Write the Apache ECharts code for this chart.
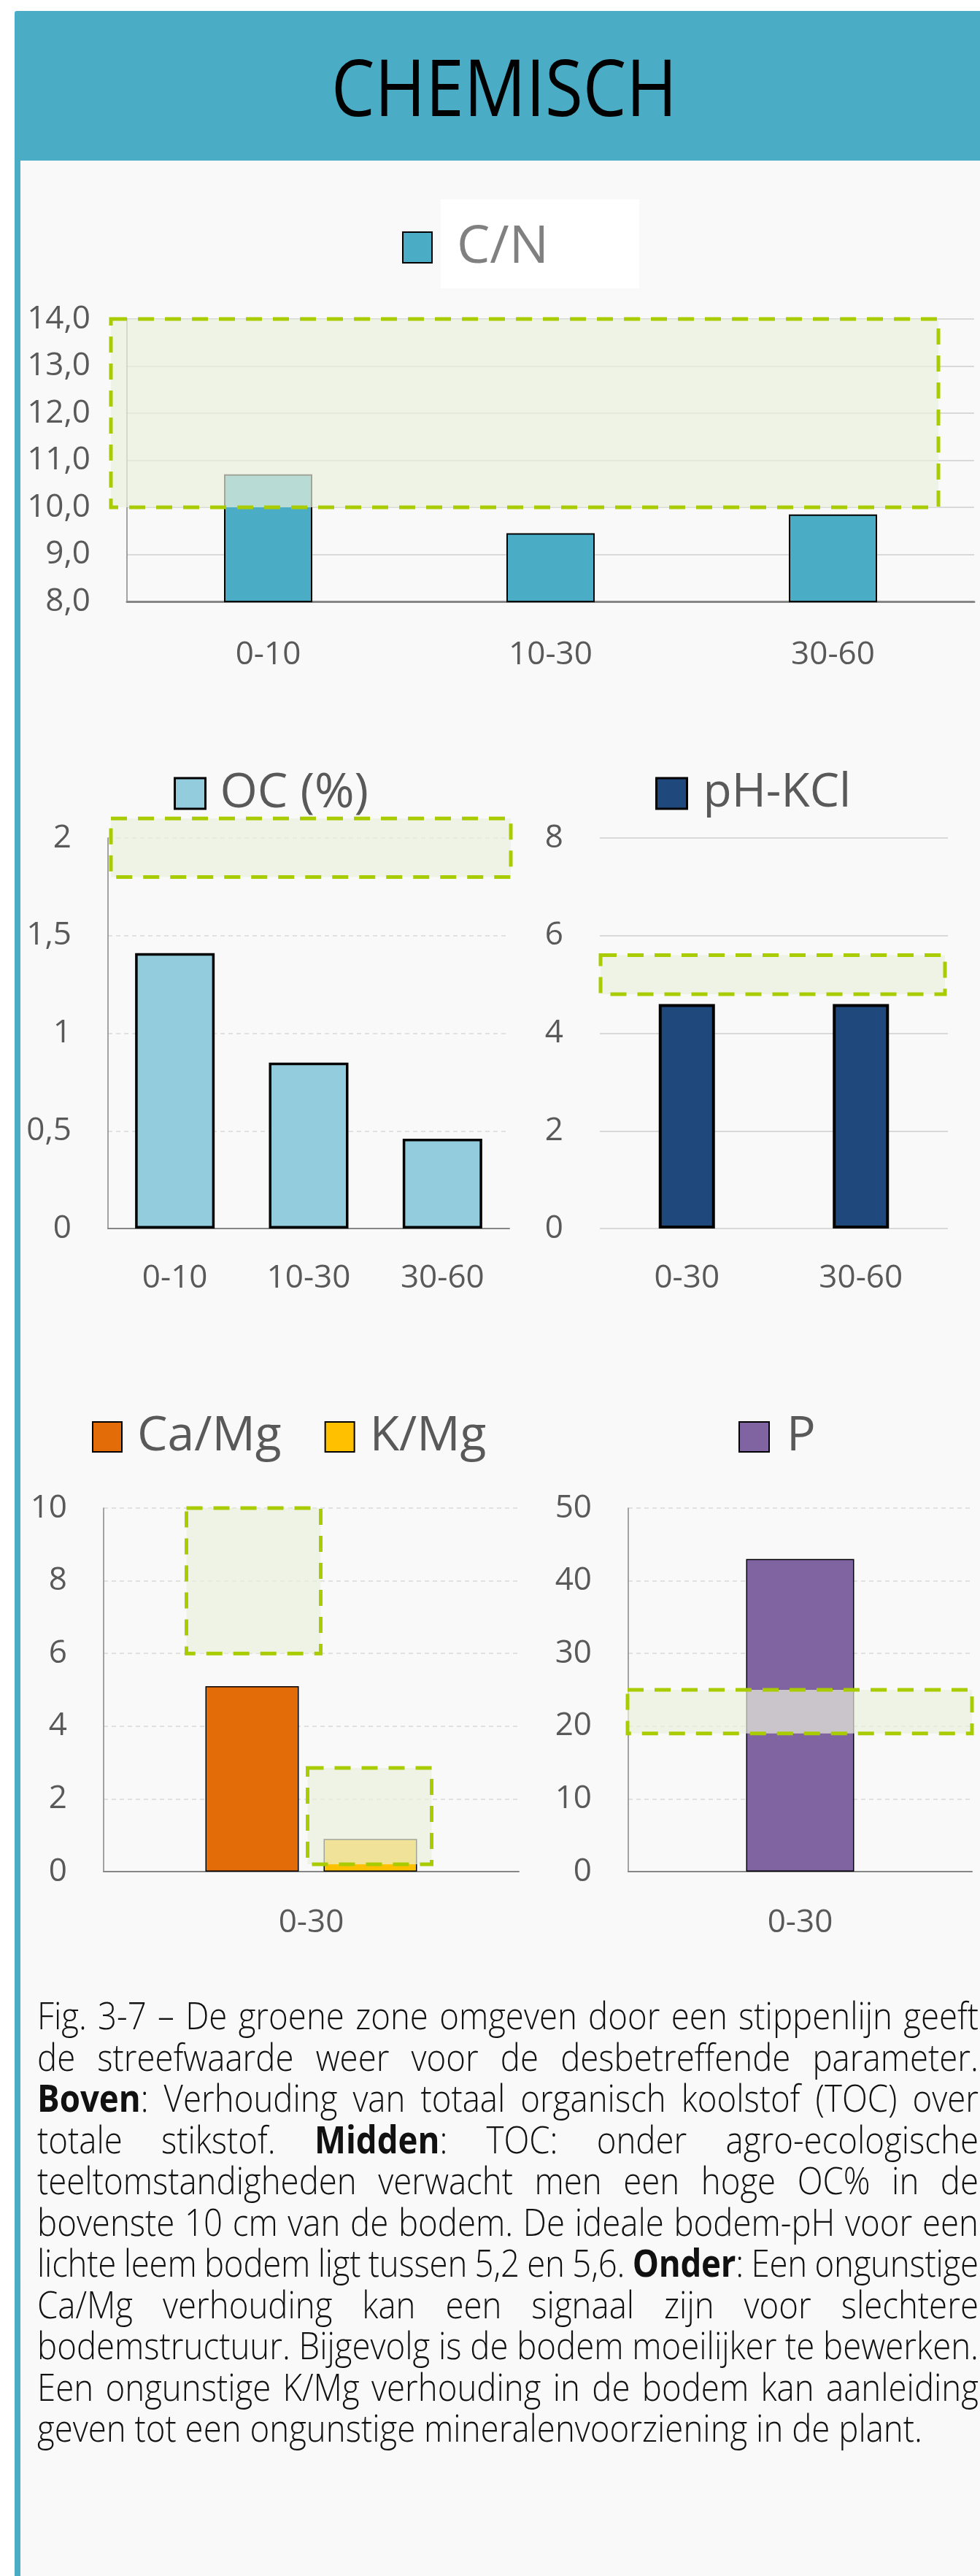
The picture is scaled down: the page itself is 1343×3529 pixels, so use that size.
<!DOCTYPE html>
<html>
<head>
<meta charset="utf-8">
<script src="https://cdn.jsdelivr.net/npm/echarts@6/dist/echarts.min.js"></script>
<style>
  html, body { margin: 0; padding: 0; background: #ffffff; }
  body { width: 1343px; height: 3529px; position: relative; overflow: hidden; font-family: 'Open Sans', sans-serif; }
  #panel { position: absolute; left: 20px; top: 220px; width: 1323px; height: 3309px; background: #f9f9f9; border-left: 8px solid #4bacc6; box-sizing: border-box; }
  #header { position: absolute; left: 20px; top: 15px; width: 1323px; height: 205px; background: #4bacc6; border-top-left-radius: 3px; }
  #title { position: absolute; left: 391px; top: 64px; width: 600px; text-align: center; font-size: 108px; line-height: 108px; color: #000; transform: scaleX(0.875); transform-origin: 50% 50%; white-space: nowrap; }
  #chart { position: absolute; left: 0; top: 0; width: 1343px; height: 2700px; z-index: 1; }
  #caption { position: absolute; left: 51px; top: 2732px; font-size: 52px; line-height: 56.5px; color: #111; font-weight: 300; transform-origin: 0 0; z-index: 2; }
  #caption .ln { display: flex; justify-content: space-between; white-space: nowrap; }
  #caption .ln span { flex: none; }
  #caption .last { white-space: pre; }
  #caption b { font-weight: 700; }
</style>
</head>
<body>
<div id="panel"></div>
<div id="header"></div>
<div id="title">CHEMISCH</div>
<div id="chart"></div>
<div id="caption"></div>
<script>
// ---------- data ----------
const cnCategories = ['0-10', '10-30', '30-60'];
const cnValues = [10.7, 9.45, 9.85];
const cnTarget = [10, 14];
const cnAxis = [8, 14, 1];

const ocCategories = ['0-10', '10-30', '30-60'];
const ocValues = [1.41, 0.85, 0.46];
const ocTarget = [1.8, 2.1];
const ocAxis = [0, 2, 0.5];

const phCategories = ['0-30', '30-60'];
const phValues = [4.6, 4.6];
const phTarget = [4.8, 5.6];
const phAxis = [0, 8, 2];

const ratioCategories = ['0-30'];
const caMgValues = [5.1];
const kMgValues = [0.9];
const caMgTarget = [6, 10];
const kMgTarget = [0.2, 2.85];
const ratioAxis = [0, 10, 2];

const pCategories = ['0-30'];
const pValues = [43];
const pTarget = [19, 25];
const pAxis = [0, 50, 10];

const captionLines = [
  'Fig. 3-7 – De groene zone omgeven door een stippenlijn geeft',
  'de streefwaarde weer voor de desbetreffende parameter.',
  '**Boven**: Verhouding van totaal organisch koolstof (TOC) over',
  'totale stikstof. **Midden**: TOC: onder agro-ecologische',
  'teeltomstandigheden verwacht men een hoge OC% in de',
  'bovenste 10 cm van de bodem. De ideale bodem-pH voor een',
  'lichte leem bodem ligt tussen 5,2 en 5,6. **Onder**: Een ongunstige',
  'Ca/Mg verhouding kan een signaal zijn voor slechtere',
  'bodemstructuur. Bijgevolg is de bodem moeilijker te bewerken.',
  'Een ongunstige K/Mg verhouding in de bodem kan aanleiding',
  'geven tot een ongunstige mineralenvoorziening in de plant.'
];

// ---------- caption (justified lines) ----------
(function () {
  const cap = document.getElementById('caption');
  const scale = 0.877;
  const innerW = 1290 / scale;
  cap.style.width = innerW + 'px';
  cap.style.transform = 'scaleX(' + scale + ')';
  const fmt = s => s.replace(/\*\*(.+?)\*\*/g, '<b>$1</b>');
  captionLines.forEach((line, i) => {
    const div = document.createElement('div');
    if (i === captionLines.length - 1) {
      div.className = 'last';
      div.innerHTML = fmt(line);
      cap.appendChild(div);
      return;
    }
    div.className = 'ln';
    const words = line.split(' ');
    div.innerHTML = words.map(w => '<span>' + fmt(w) + '</span>').join('');
    cap.appendChild(div);
    // keep a minimum word gap: tighten letters if a line is too long
    const spans = Array.from(div.children);
    const natural = spans.reduce((s, el) => s + el.getBoundingClientRect().width / scale, 0);
    const minGap = 12;
    const excess = natural + minGap * (spans.length - 1) - innerW;
    if (excess > 0) {
      const chars = line.replace(/\*\*/g, '').replace(/ /g, '').length;
      div.style.letterSpacing = (-excess / chars) + 'px';
    }
  });
})();

// ---------- chart ----------
const FONT = "'Open Sans', sans-serif";
const GREY_TXT = '#595959';
const AXIS_GREY = '#868686';
const GRID_GREY = '#d9d9d9';

const commaFmt1 = v => v.toFixed(1).replace('.', ',');
const commaFmt = v => String(v).replace('.', ',');

function xAxisCfg(gridIndex, data, showLine, lineWidth, margin) {
  return {
    type: 'category', gridIndex, data,
    axisTick: { show: false },
    axisLine: { show: showLine, onZero: false, lineStyle: { color: AXIS_GREY, width: lineWidth } },
    axisLabel: { color: GREY_TXT, fontSize: 44, fontFamily: FONT, margin },
    splitLine: { show: false }
  };
}
function yAxisCfg(gridIndex, ax, splitType, splitWidth, showLine, formatter) {
  return {
    type: 'value', gridIndex, min: ax[0], max: ax[1], interval: ax[2],
    axisTick: { show: false },
    axisLine: { show: showLine, lineStyle: { color: AXIS_GREY, width: 1.5 } },
    axisLabel: { color: GREY_TXT, fontSize: 44, fontFamily: FONT, margin: 50, formatter },
    splitLine: { show: true, lineStyle: { color: GRID_GREY, width: splitWidth, type: splitType } }
  };
}
function barSeries(name, data, idx, color, barWidth, borderWidth, extra) {
  return Object.assign({
    type: 'bar', name, data, xAxisIndex: idx, yAxisIndex: idx, barWidth,
    itemStyle: { color, borderColor: '#000', borderWidth },
    z: 2, silent: true, animation: false
  }, extra || {});
}
// target zone drawn through the axis scales
function zoneSeries(idx, range, mode) {
  return {
    type: 'custom', xAxisIndex: idx, yAxisIndex: idx, z: 5, silent: true, clip: false, animation: false,
    data: [[0, range[0], range[1]]],
    encode: { x: 0, y: [1, 2] },
    renderItem(params, api) {
      const cs = params.coordSys;
      const lo = api.coord([api.value(0), api.value(1)]);
      const hi = api.coord([api.value(0), api.value(2)]);
      let x0, x1;
      if (mode.full) { x0 = cs.x + mode.l; x1 = cs.x + cs.width + mode.r; }
      else { x0 = lo[0] + mode.dx - mode.w / 2; x1 = x0 + mode.w; }
      return {
        type: 'rect',
        shape: { x: x0, y: hi[1], width: x1 - x0, height: lo[1] - hi[1] },
        style: { fill: 'rgba(235,240,221,0.69)', stroke: '#a8cc00', lineWidth: 5, lineDash: [22, 15] }
      };
    }
  };
}
// swatchTop: wanted top of the colour swatch; the text box overflows the swatch by (fs - h)/2
function legendCfg(names, left, swatchTop, opts) {
  return {
    data: names, left, top: swatchTop - (opts.fs - opts.h) / 2, orient: 'horizontal', padding: 0, icon: 'rect',
    itemWidth: opts.w, itemHeight: opts.h, itemGap: opts.gap || 59, selectedMode: false,
    itemStyle: { borderColor: '#000', borderWidth: opts.bw },
    textStyle: { fontSize: opts.fs, color: opts.color, fontFamily: FONT, lineHeight: opts.h, padding: [0, 0, 0, opts.tp] }
  };
}

const option = {
  backgroundColor: 'transparent',
  animation: false,
  graphic: [
    { type: 'rect', shape: { x: 604, y: 273, width: 272, height: 122 }, style: { fill: '#ffffff' }, z: 0, silent: true }
  ],
  legend: [
    legendCfg(['C/N'], 551, 318, { w: 40, h: 42, bw: 2, fs: 72, color: '#808080', tp: 29 }),
    legendCfg(['OC (%)'], 238, 1066, { w: 42, h: 42, bw: 3, fs: 66, color: GREY_TXT, tp: 15 }),
    legendCfg(['pH-KCl'], 898, 1066, { w: 42, h: 42, bw: 3, fs: 64, color: GREY_TXT, tp: 17 }),
    legendCfg(['Ca/Mg', 'K/Mg'], 126, 1948, { w: 40, h: 41, bw: 2, fs: 66, color: GREY_TXT, tp: 16, gap: 59 }),
    legendCfg(['P'], 1012, 1948, { w: 41, h: 41, bw: 2, fs: 66, color: GREY_TXT, tp: 19 })
  ],
  grid: [
    { left: 174, top: 437, width: 1161, height: 387, outerBoundsMode: 'none' },
    { left: 148, top: 1148, width: 550, height: 535, outerBoundsMode: 'none' },
    { left: 822, top: 1148, width: 477, height: 535, outerBoundsMode: 'none' },
    { left: 142, top: 2066, width: 569, height: 498, outerBoundsMode: 'none' },
    { left: 861, top: 2066, width: 471, height: 498, outerBoundsMode: 'none' }
  ],
  xAxis: [
    xAxisCfg(0, cnCategories, true, 3, 51),
    xAxisCfg(1, ocCategories, true, 2, 46),
    xAxisCfg(2, phCategories, false, 2, 46),
    xAxisCfg(3, ratioCategories, true, 2, 48),
    xAxisCfg(4, pCategories, true, 2, 48)
  ],
  yAxis: [
    yAxisCfg(0, cnAxis, 'solid', 2, true, commaFmt1),
    yAxisCfg(1, ocAxis, [6, 5], 1.5, true, commaFmt),
    yAxisCfg(2, phAxis, 'solid', 2, false, commaFmt),
    yAxisCfg(3, ratioAxis, [6, 5], 1.5, true, commaFmt),
    yAxisCfg(4, pAxis, [6, 5], 1.5, true, commaFmt)
  ],
  series: [
    barSeries('C/N', cnValues, 0, '#4bacc6', 121, 2),
    zoneSeries(0, cnTarget, { full: true, l: -22, r: -49 }),

    barSeries('OC (%)', ocValues, 1, '#93cddd', 109, 3.5),
    zoneSeries(1, ocTarget, { full: true, l: 4, r: 2 }),

    barSeries('pH-KCl', phValues, 2, '#1f497d', 77, 4),
    zoneSeries(2, phTarget, { full: true, l: 1, r: -4 }),

    barSeries('Ca/Mg', caMgValues, 3, '#e36c09', 128, 1.5, { barGap: '26.5625%' }),
    barSeries('K/Mg', kMgValues, 3, '#ffc000', 128, 1.5, { barGap: '26.5625%' }),
    zoneSeries(3, caMgTarget, { full: false, dx: -79, w: 184 }),
    zoneSeries(3, kMgTarget, { full: false, dx: 80, w: 170 }),

    barSeries('P', pValues, 4, '#8064a2', 148, 1.5),
    zoneSeries(4, pTarget, { full: true, l: -1, r: 0 })
  ]
};

const chart = echarts.init(document.getElementById('chart'), null, { renderer: 'canvas' });
chart.setOption(option);
</script>
</body>
</html>
